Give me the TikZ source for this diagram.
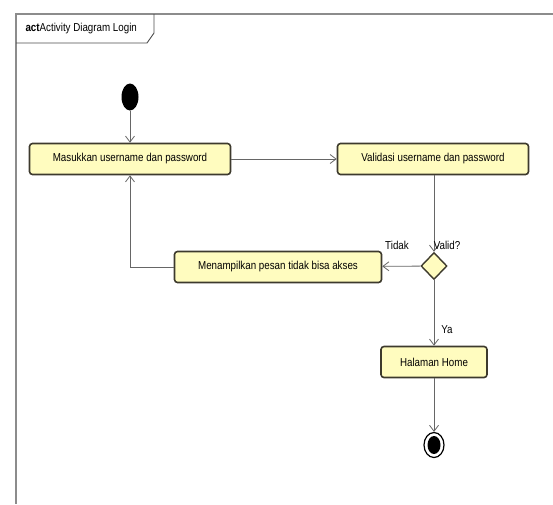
\documentclass[tikz,border=0pt]{standalone}
\usepackage{fontspec}
\setmainfont[FakeStretch=0.85]{Liberation Sans}
\usetikzlibrary{shapes.geometric,arrows.meta}

\begin{document}
\begin{tikzpicture}[x=1pt, y=-1pt, >={Straight Barb[length=6pt,width=9pt]},
  font=\fontsize{11.5}{13}\selectfont,
  aksi/.style={draw=black!75!olive, line width=1.6pt, fill=yellow!25, rounded corners=3pt,
    minimum height=31pt, inner sep=2pt},
  alur/.style={->, draw=black!60, line width=0.8pt}]

  \useasboundingbox (0,0) rectangle (553,504);

  % Bingkai diagram
  \draw[black!45, line width=1.2pt] (553,14) -- (16,14) -- (16,504);
  \draw[black!70, line width=0.9pt] (16,43) -- (147,43) -- (154,33) -- (154,14);
  \node[anchor=west] (judul) at (22,29) {\textbf{act}Activity Diagram Login};

  % Node awal dan akhir
  \node[ellipse, fill=black, minimum width=17pt, minimum height=27pt, inner sep=0] (mulai) at (130,97) {};
  \node[ellipse, draw=black, line width=1.2pt, fill=white, minimum width=20pt, minimum height=25pt, inner sep=0] (selesai) at (434,445) {};
  \node[ellipse, fill=black, minimum width=13pt, minimum height=18pt, inner sep=0] (selesaiIsi) at (selesai) {};

  % Aktivitas
  \node[aksi, minimum width=201pt] (masuk) at (130,159) {Masukkan username dan password};
  \node[aksi, minimum width=191pt] (validasi) at (433,159) {Validasi username dan password};
  \node[aksi, minimum width=207pt] (gagal) at (278,267) {Menampilkan pesan tidak bisa akses};
  \node[aksi, minimum width=106pt] (home) at (434,362) {Halaman Home};

  % Keputusan
  \node[diamond, draw=black!75!olive, line width=1.4pt, fill=yellow!25, minimum width=26pt, minimum height=27pt, inner sep=0] (cek) at (434,266) {};

  % Alur
  \draw[alur] (mulai) -- (masuk);
  \draw[alur] (masuk) -- (validasi);
  \draw[alur] (validasi.south -| cek) -- (cek);
  \draw[alur] (cek) -- (gagal);
  \draw[alur] (gagal) -| (masuk);
  \draw[alur] (cek) -- (home);
  \draw[alur] (home) -- (selesai);

  % Label
  \node (lValid) at (447,245) {Valid?};
  \node (lTidak) at (397,245) {Tidak};
  \node (lYa) at (447,330) {Ya};

\end{tikzpicture}
\end{document}
